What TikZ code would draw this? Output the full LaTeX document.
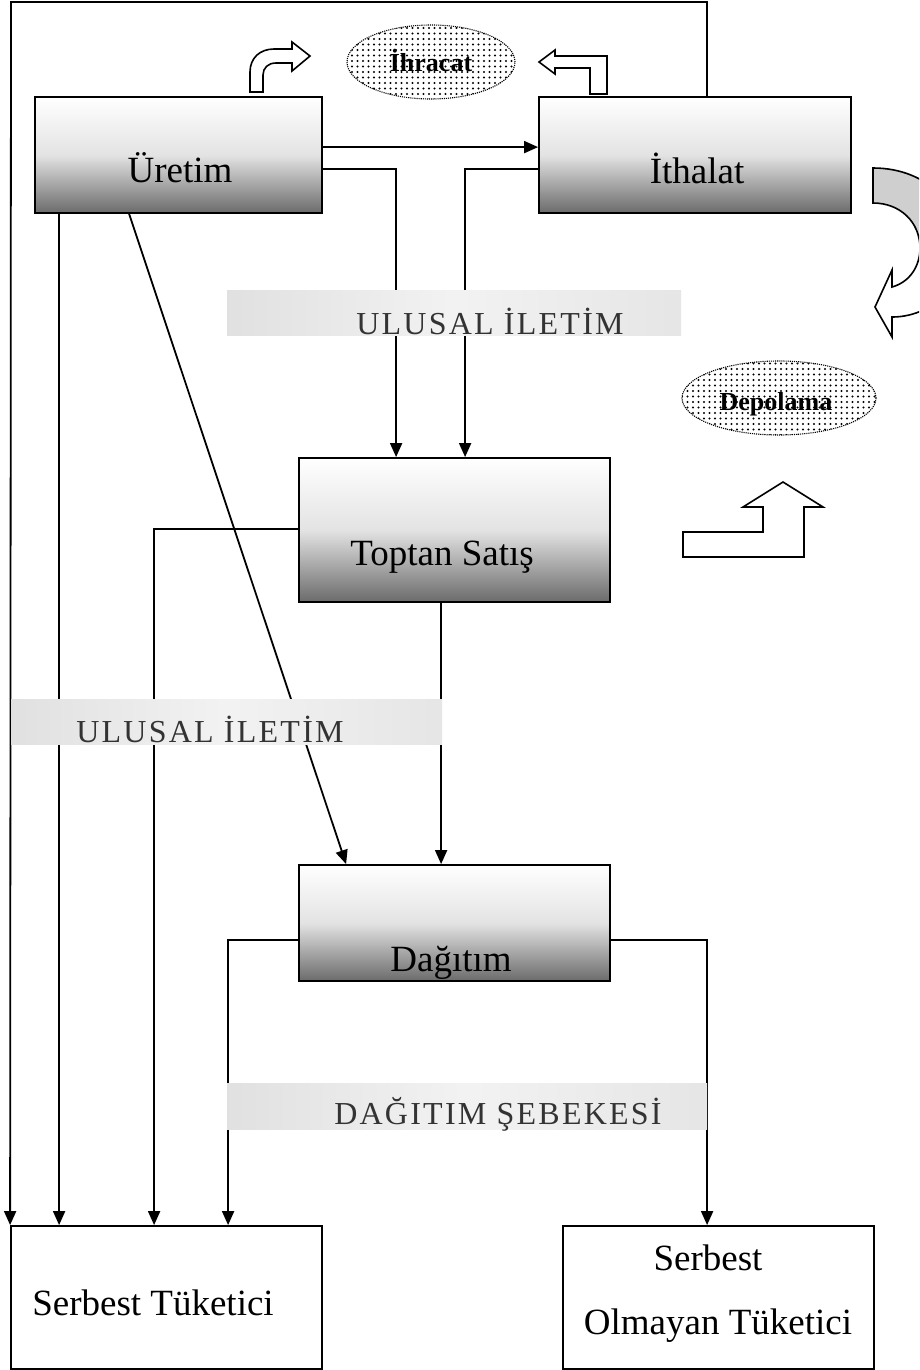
\documentclass[tikz,border=0pt]{standalone}
\usepackage{fontspec}
\setmainfont{Liberation Serif}
\newfontfamily\bandfont[LetterSpace=7]{Liberation Serif}
\usetikzlibrary{arrows.meta,patterns.meta,calc,shapes.geometric}
\tikzset{
  box/.style={draw=black,line width=1.8pt,rectangle,inner sep=0pt,
    top color=white,bottom color=black!58,middle color=gray!22},
  wbox/.style={draw=black,line width=1.8pt,rectangle,inner sep=0pt,fill=white},
  boxtext/.style={font=\fontsize{37}{42}\selectfont,inner sep=0pt},
  bandtext/.style={font=\bandfont\fontsize{32}{36}\selectfont,text=black!80,inner sep=0pt},
  band/.style={rectangle,inner sep=0pt,left color=gray!24,right color=gray!20,middle color=gray!10},
  conn/.style={line width=1.8pt},
  arr/.style={line width=1.8pt,-{Triangle[width=12pt,length=14pt]}},
  dotell/.style={ellipse,draw=black,densely dotted,line width=1.1pt,
    pattern={Dots[distance=5.5pt,radius=1.05pt]},inner sep=0pt},
  elltext/.style={font=\fontsize{26}{30}\selectfont\bfseries,inner sep=0pt},
  icon/.style={draw=black,line width=1.6pt,fill=white,line join=miter}
}
\begin{document}
\begin{tikzpicture}[x=1pt,y=-1pt]
\useasboundingbox (0,0) rectangle (919,1370);
\fill[white] (0,0) rectangle (919,1370);

% boxes
\node[box,minimum width=287pt,minimum height=116pt] (ure) at (178.5,155) {};
\node[box,minimum width=312pt,minimum height=116pt] (ith) at (695,155) {};
\node[box,minimum width=311pt,minimum height=144pt] (top) at (454.5,530) {};
\node[box,minimum width=311pt,minimum height=116pt] (dag) at (454.5,923) {};
\node[wbox,minimum width=311pt,minimum height=143pt] (st) at (166.5,1297.5) {};
\node[wbox,minimum width=311pt,minimum height=143pt] (sot) at (718.5,1297.5) {};

\node[boxtext] (ureT) at (180,168) {Üretim};
\node[boxtext] (ithT) at (697,168) {İthalat};
\node[boxtext] (topT) at (442,557) {Toptan Satış};
\node[boxtext] (dagT) at (451,963) {Dağıtım};
\node[boxtext] (stT) at (153,1303) {Serbest Tüketici};
\node[boxtext] (sotT1) at (708,1258) {Serbest};
\node[boxtext] (sotT2) at (718,1326) {Olmayan Tüketici};

% outer loop
\coordinate (c1) at (707,2);
\coordinate (c2) at (11,2);
\draw[conn,-{Triangle[width=12pt,length=14pt]}] (ith.north -| c1) -- (c1) -- (c2) -- (st.north west);

% connectors
\draw[arr] ([yshift=-51pt]ure.north east) -- ([yshift=-51pt]ith.north west);
\draw[arr] ([yshift=-73pt]ure.north east) -| ([xshift=98pt]top.north west);
\draw[arr] ([yshift=-73pt]ith.north west) -| ([xshift=167pt]top.north west);
\draw[arr] ([xshift=25pt]ure.south west) -- ([xshift=49pt]st.north west);
\draw[arr] ([xshift=95pt]ure.south west) -- ([xshift=48pt]dag.north west);
\draw[arr] ([yshift=-72pt]top.north west) -| ([xshift=144pt]st.north west);
\draw[arr] ([xshift=143pt]top.south west) -- ([xshift=143pt]dag.north west);
\draw[arr] ([yshift=-76pt]dag.north west) -| ([xshift=218pt]st.north west);
\draw[arr] ([yshift=-76pt]dag.north east) -| ([xshift=145pt]sot.north west);

% bands
\node[band,minimum width=454pt,minimum height=45pt] (b1) at (454,312.5) {};
\node[bandtext] (b1T) at (490,321) {ULUSAL İLETİM};
\node[band,minimum width=431pt,minimum height=45pt] (b2) at (226.5,721.5) {};
\node[bandtext] (b2T) at (210,729) {ULUSAL İLETİM};
\node[band,minimum width=480pt,minimum height=46pt] (b3) at (467,1106) {};
\node[bandtext] (b3T) at (498,1114) {DAĞITIM ŞEBEKESİ};

% ellipses
\node[dotell,minimum width=168pt,minimum height=74pt] (ihr) at (431,62) {};
\node[elltext] (ihrT) at (431,60) {İhracat};
\node[dotell,minimum width=194pt,minimum height=74pt] (dep) at (779,398) {};
\node[elltext] (depT) at (776,404) {Depolama};

% bent arrow top-left
\draw[icon] (250,92) -- (250,72) .. controls (250,58) and (260,49) .. (274,49) -- (292,49) -- (292,42) -- (310,56) -- (292,71) -- (292,63) -- (276,63) .. controls (268,63) and (263,68) .. (263,75) -- (263,92) -- cycle;
% bent arrow top-right
\draw[icon] (539,62) -- (555,50) -- (555,56) -- (607,56) -- (607,94) -- (590,94) -- (590,68) -- (555,68) -- (555,74) -- cycle;
% up-bent arrow
\draw[icon] (683,532) -- (763,532) -- (763,507) -- (743,507) -- (783,482) -- (823,507) -- (804,507) -- (804,557) -- (683,557) -- cycle;
% curved arrow right (clipped at edge)
\begin{scope}
\clip (0,0) rectangle (919,1370);
\path[fill=white] (873,168) .. controls (930,168) and (965,210) .. (962,252) .. controls (958,295) and (925,317) .. (892,317) -- (892,337) -- (875,307) -- (892,270) -- (892,287) .. controls (910,282) and (920,266) .. (920,248) .. controls (920,222) and (900,203) .. (873,203) -- cycle;
\begin{scope}
\clip (860,160) rectangle (925,243);
\path[fill=gray!38] (873,168) .. controls (930,168) and (965,210) .. (962,252) .. controls (958,295) and (925,317) .. (892,317) -- (892,337) -- (875,307) -- (892,270) -- (892,287) .. controls (910,282) and (920,266) .. (920,248) .. controls (920,222) and (900,203) .. (873,203) -- cycle;
\end{scope}
\draw[line width=1.6pt,line join=miter] (873,168) .. controls (930,168) and (965,210) .. (962,252) .. controls (958,295) and (925,317) .. (892,317) -- (892,337) -- (875,307) -- (892,270) -- (892,287) .. controls (910,282) and (920,266) .. (920,248) .. controls (920,222) and (900,203) .. (873,203) -- cycle;
\end{scope}
\end{tikzpicture}
\end{document}
